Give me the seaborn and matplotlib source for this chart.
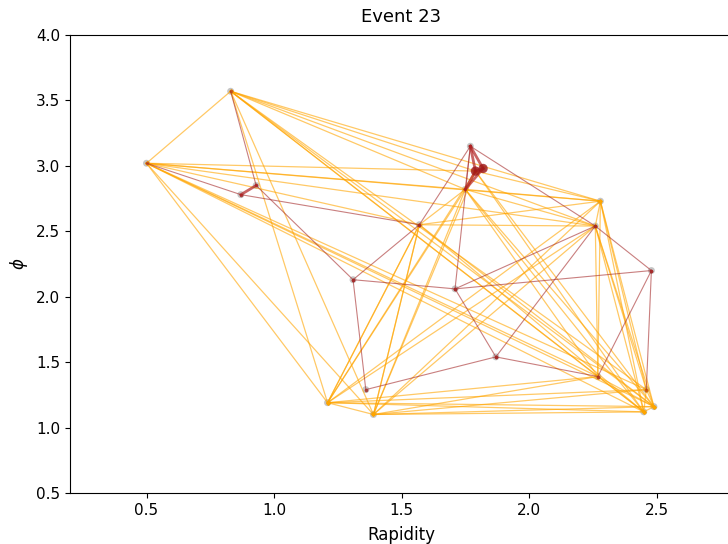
import matplotlib
matplotlib.use("Agg")
import matplotlib.pyplot as plt
import seaborn as sns
import pandas as pd

# node positions (rapidity, phi)
node_names = ["A", "B", "C", "D", "E", "F", "G", "H", "I", "J", "K", "L", "M1", "M2",
              "R1", "R2", "R3", "R4", "R5", "R6", "R7", "R8"]
node_x = [0.50, 0.83, 2.28, 2.26, 1.21, 1.39, 2.45, 2.49, 2.46, 2.27, 1.75, 1.57, 1.79, 1.82,
          1.77, 0.93, 0.87, 1.31, 1.71, 1.87, 1.36, 2.48]
node_y = [3.02, 3.57, 2.73, 2.54, 1.19, 1.10, 1.12, 1.16, 1.29, 1.39, 2.82, 2.55, 2.96, 2.98,
          3.15, 2.85, 2.78, 2.13, 2.06, 1.54, 1.29, 2.20]

# orange edges
orange_src = (["A"] * 12 + ["B"] * 10 + ["E"] * 10 + ["F"] * 9 + ["L"] * 7 + ["K"] * 5
              + ["M1"] * 3 + ["C"] * 5 + ["D"] * 4 + ["J"] * 2 + ["I"] * 2 + ["G"])
orange_dst = (["B", "C", "D", "K", "M1", "L", "G", "H", "I", "J", "E", "F"]
              + ["C", "D", "K", "M1", "G", "H", "I", "J", "E", "F"]
              + ["F", "K", "M1", "L", "C", "D", "G", "H", "I", "J"]
              + ["K", "M1", "L", "C", "D", "G", "H", "I", "J"]
              + ["C", "D", "K", "G", "H", "E", "F"]
              + ["C", "D", "G", "H", "J"]
              + ["C", "G", "H"]
              + ["D", "G", "H", "J", "I"]
              + ["G", "H", "J", "I"]
              + ["G", "H"]
              + ["G", "H"]
              + ["H"])

# thin red edges
red_src = ["A", "R3", "R2", "R2", "L", "L", "R1", "R1", "R5", "R5", "R5", "R4",
           "R6", "R6", "R6", "R7", "R8", "R8", "R8", "R1"]
red_dst = ["R3", "L", "B", "R4", "R1", "R4", "R5", "D", "R6", "R8", "D", "R5",
           "J", "D", "R7", "R4", "D", "J", "I", "K"]

# thick red edges
thick_src = ["R2", "R1", "R1", "M1", "M2", "M1"]
thick_dst = ["R3", "M1", "M2", "K", "K", "M2"]

# cluster of large dark-red markers
blob_names = ["M1", "M2"]

pos = dict(zip(node_names, zip(node_x, node_y)))


def edge_frame(src, dst):
    rows = []
    for i, (s, d) in enumerate(zip(src, dst)):
        for n in (s, d):
            rows.append({"edge": i, "x": pos[n][0], "y": pos[n][1]})
    return pd.DataFrame(rows)


nodes_df = pd.DataFrame({"x": node_x, "y": node_y})
blob_df = pd.DataFrame({"x": [pos[n][0] for n in blob_names],
                        "y": [pos[n][1] for n in blob_names]})

fig = plt.figure(figsize=(7.28, 5.44), dpi=100)
ax = fig.add_axes([70 / 728, 51 / 544, 663 / 728, 458 / 544])

sns.scatterplot(data=nodes_df, x="x", y="y", color="grey", s=25, alpha=0.45,
                edgecolor="none", ax=ax, zorder=1)

sns.lineplot(data=edge_frame(orange_src, orange_dst), x="x", y="y", units="edge",
             estimator=None, sort=False, color="orange", alpha=0.6, linewidth=0.9,
             marker="o", markersize=2.5, markeredgewidth=0, ax=ax, zorder=2)
sns.lineplot(data=edge_frame(red_src, red_dst), x="x", y="y", units="edge",
             estimator=None, sort=False, color="#a52a2a", alpha=0.6, linewidth=0.8,
             marker="o", markersize=2.5, markeredgewidth=0, ax=ax, zorder=3)
sns.lineplot(data=edge_frame(thick_src, thick_dst), x="x", y="y", units="edge",
             estimator=None, sort=False, color="#b22222", alpha=0.7, linewidth=2.0,
             ax=ax, zorder=4)
sns.scatterplot(data=blob_df, x="x", y="y", color="#a01818", s=45, alpha=0.8,
                edgecolor="none", ax=ax, zorder=5)

ax.set_xlim(0.2, 2.8)
ax.set_ylim(0.5, 4.0)
ax.set_xticks([0.5, 1.0, 1.5, 2.0, 2.5])
ax.set_yticks([0.5, 1.0, 1.5, 2.0, 2.5, 3.0, 3.5, 4.0])
ax.set_xlabel("Rapidity", fontsize=12, labelpad=6)
ax.set_ylabel(r"$\phi$", fontsize=12)
ax.set_title("Event 23", fontsize=13, pad=9)
ax.tick_params(labelsize=11)

fig.savefig("out.png", dpi=100)
